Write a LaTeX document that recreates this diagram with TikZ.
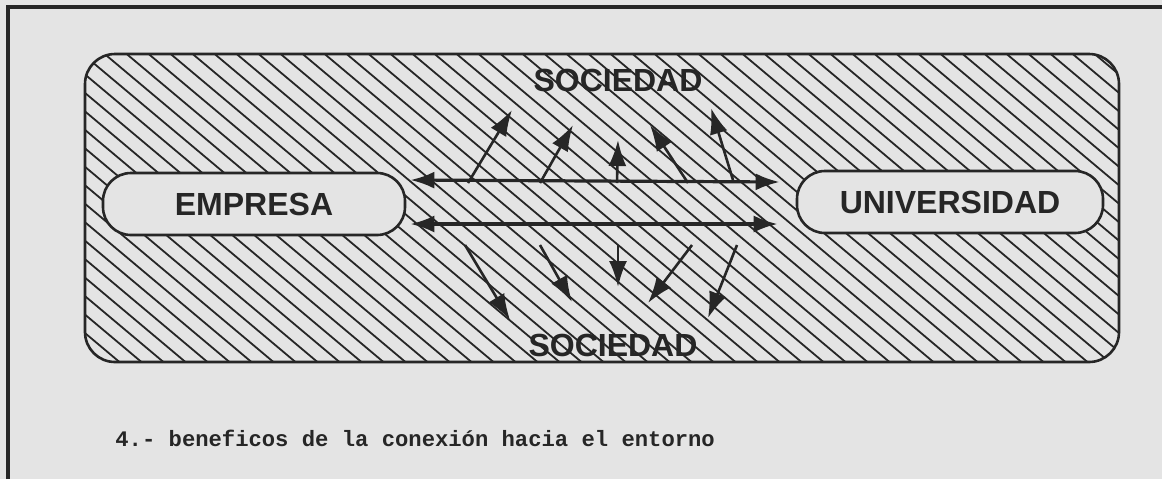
\documentclass[tikz,border=0pt]{standalone}
\usepackage{fontspec}
\setmainfont{Liberation Sans}
\newfontfamily\capfont{Liberation Mono}
\usetikzlibrary{arrows.meta,positioning,calc}
\definecolor{paper}{HTML}{E4E4E4}
\definecolor{ink}{HTML}{262626}

\tikzset{
  actor/.style={draw=ink,line width=1.3pt,fill=paper,rounded corners=14pt,
    minimum width=151pt,minimum height=31pt,inner sep=0pt,
    font=\fontsize{16}{18}\selectfont\bfseries,text=ink},
  flecha/.style={ink,line width=1.6pt,{Latex[length=12pt,width=8.5pt]}-{Latex[length=12pt,width=8.5pt]}},
  rayo/.style={ink,line width=1.3pt,-{Latex[length=13pt,width=9pt]}},
  soc/.style={font=\fontsize{16}{18}\selectfont\bfseries,text=ink,inner sep=0pt}
}

\begin{document}
\begin{tikzpicture}[x=0.5pt,y=-0.5pt]
  \fill[paper] (0,0) rectangle (1162,479);
  \useasboundingbox (0,0) rectangle (1162,479);
  % marco
  \draw[ink,line width=1.6pt] (8,479) -- (8,7) -- (1162,7);
  % entorno rayado
  \begin{scope}
    \clip[rounded corners=15pt] (85,54) rectangle (1119,362);
    \foreach \i in {-330,-308,...,1140} {
      \draw[ink,line width=0.9pt] (\i,40) -- ++(393,330);
    }
  \end{scope}
  \draw[ink,line width=1.3pt,rounded corners=15pt] (85,54) rectangle (1119,362);

  \node[actor] (empresa) at (254,204) {EMPRESA};
  \node[actor,minimum width=153pt] (universidad) at (950,202) {UNIVERSIDAD};
  \node[soc] (socArriba) at (618,80) {SOCIEDAD};
  \node[soc] (socAbajo) at (613,345) {SOCIEDAD};

  \draw[flecha] ([xshift=2pt,yshift=12pt]empresa.east) -- ([xshift=-8pt,yshift=10pt]universidad.west);
  \draw[flecha] ([xshift=2pt,yshift=-10pt]empresa.east) -- ([xshift=-9pt,yshift=-11pt]universidad.west);

  % hacia la sociedad
  \foreach \xa/\ya/\xb/\yb [count=\n] in {468/183/512/110, 540/183/573/125, 617/183/618/140,
      688/183/650/125, 733/180/711/108} {
    \coordinate (up\n) at (\xa,\ya);
    \coordinate (upTip\n) at (\xb,\yb);
    \draw[rayo] (up\n) -- (upTip\n);
  }
  \foreach \xa/\ya/\xb/\yb [count=\n] in {465/245/510/320, 540/245/572/302, 618/245/618/287,
      692/245/648/303, 737/245/708/318} {
    \coordinate (dn\n) at (\xa,\ya);
    \coordinate (dnTip\n) at (\xb,\yb);
    \draw[rayo] (dn\n) -- (dnTip\n);
  }

  \node[anchor=west,inner sep=0pt,font=\capfont\bfseries\fontsize{11.1}{13}\selectfont,text=ink]
    (leyenda) at (115,438) {4.- beneficos de la conexión hacia el entorno};
\end{tikzpicture}
\end{document}
